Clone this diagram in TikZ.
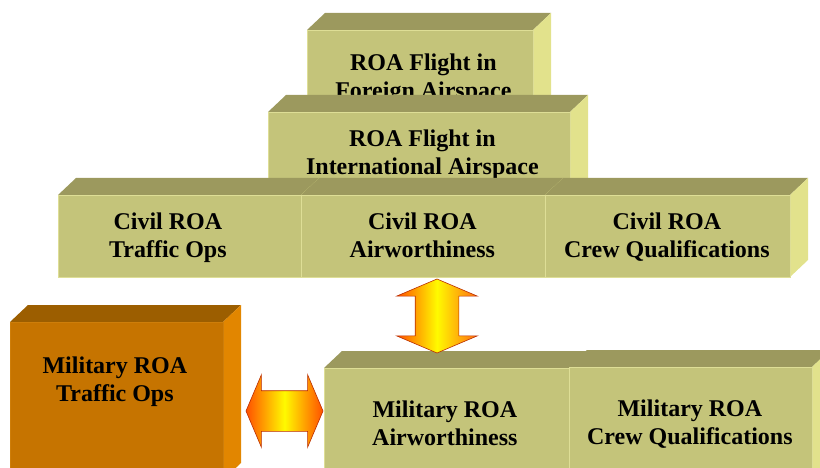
\documentclass[tikz,border=0pt]{standalone}
\usepackage{fontspec}
\setmainfont{Liberation Serif}
\usetikzlibrary{shapes.arrows,calc}

\definecolor{khakifront}{RGB}{196,196,122}
\definecolor{khakitop}{RGB}{156,153,94}
\definecolor{khakiside}{RGB}{226,226,140}
\definecolor{khakiedge}{RGB}{222,222,150}
\definecolor{amberfront}{RGB}{198,116,0}
\definecolor{ambertop}{RGB}{156,94,0}
\definecolor{amberside}{RGB}{226,134,0}
\definecolor{amberedge}{RGB}{206,126,10}
\definecolor{linkend}{RGB}{255,80,0}
\definecolor{linktop}{RGB}{255,110,20}
\definecolor{linkmid}{RGB}{255,250,0}
\definecolor{linkedge}{RGB}{185,45,0}

% one 3D block: name, left, top, right, bottom, colour set
\newcommand\roabox[6]{%
  \fill[#6top] (#2,#3) -- ++(18,-17) -- ({#4+18},{#3-17}) -- (#4,#3) -- cycle;
  \fill[#6side] (#4,#3) -- ({#4+18},{#3-17}) -- ({#4+18},{#5-17}) -- (#4,#5) -- cycle;
  \node[front=#6, minimum width={(#4-#2)*1pt}, minimum height={(#5-#3)*1pt}] (#1) at (#2,#3) {};
}

\begin{document}
\begin{tikzpicture}[x=1pt, y=-1pt,
  front/.style={draw=#1edge, line width=0.8pt, fill=#1front, inner sep=0pt, anchor=north west},
  lbl/.style={font=\bfseries\fontsize{24}{28}\selectfont, align=center, inner sep=0pt,
    execute at begin node=\strut, execute at end node=\strut},
  link/.style={double arrow, draw=linkedge, line width=0.6pt, inner xsep=0pt,
    double arrow tip angle=134}]
\clip (0,0) rectangle (820,468);

% upper stack
\roabox{foreign}{307}{30}{533}{122}{khaki}
\node[lbl] (foreign-t) at ($(foreign)+(3,4)$) {ROA Flight in\\Foreign Airspace};
\roabox{intl}{268}{112}{570}{196}{khaki}
\node[lbl] (intl-t) at ($(intl)+(3,2)$) {ROA Flight in\\International Airspace};

% civil row
\roabox{civtraffic}{58}{195}{301}{277}{khaki}
\roabox{civair}{301}{195}{545}{277}{khaki}
\roabox{civcrew}{545}{195}{790}{277}{khaki}
\node[lbl] (civtraffic-t) at ($(civtraffic)+(-12,3)$) {Civil ROA\\Traffic Ops};
\node[lbl] (civair-t) at ($(civair)+(-1,3)$) {Civil ROA\\Airworthiness};
\node[lbl] (civcrew-t) at ($(civcrew)+(-1,3)$) {Civil ROA\\Crew Qualifications};

% military row
\roabox{miltraffic}{10}{322}{223}{480}{amber}
\node[lbl] (miltraffic-t) at ($(miltraffic)+(-2,-18)$) {Military ROA\\Traffic Ops};
\roabox{milair}{324}{368}{569}{480}{khaki}
\roabox{milcrew}{569}{367}{812}{480}{khaki}
\node[lbl] (milair-t) at ($(milair)+(-2,3)$) {Military ROA\\Airworthiness};
\node[lbl] (milcrew-t) at ($(milcrew)+(-1,2)$) {Military ROA\\Crew Qualifications};

% links between civil and military
\node[link, rotate=90, inner ysep=21.5pt, minimum height=74pt, double arrow head extend=18.5pt,
  left color=linkend, right color=linktop, middle color=linkmid] (vlink) at (437,316) {};
\node[link, inner ysep=20pt, minimum height=77pt, double arrow head extend=16pt,
  left color=linkend, right color=linkend, middle color=linkmid] (hlink) at (284.5,411) {};
\end{tikzpicture}
\end{document}
